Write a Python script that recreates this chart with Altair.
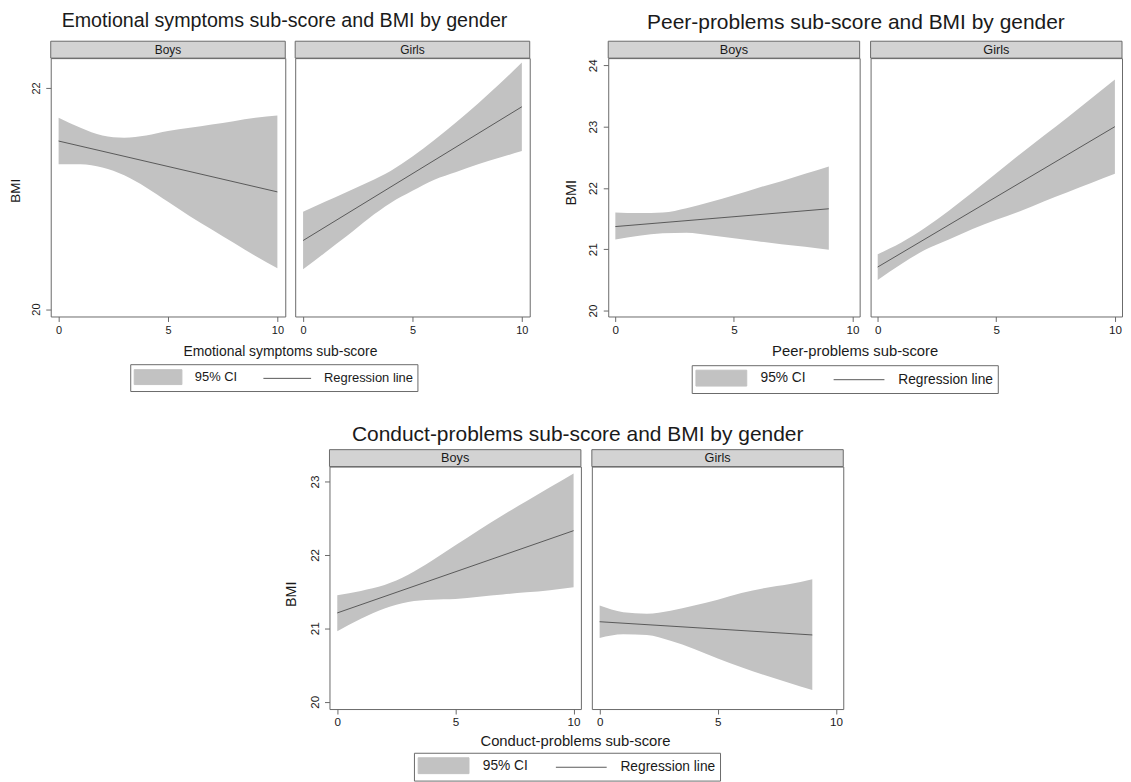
import altair as alt
import pandas as pd

FONT = "Liberation Sans"
TXT = "#1a1a1a"
FRAME = "#6a6a6a"
BAND = "#c2c2c2"
LINE = "#595959"
STRIP = "#d3d3d3"
SERIES = ["95% CI", "Regression line"]

# ---------------- data ----------------
x_0_10 = [0, 1, 2, 3, 4, 5, 6, 7, 8, 9, 10]
x_0_9 = [0, 1, 2, 3, 4, 5, 6, 7, 8, 9]

# Emotional symptoms
emo_boys_lo = [21.31, 21.31, 21.28, 21.21, 21.10, 20.97, 20.84, 20.72, 20.60, 20.48, 20.37]
emo_boys_hi = [21.73, 21.64, 21.57, 21.55, 21.57, 21.61, 21.64, 21.67, 21.70, 21.73, 21.75]
emo_boys_fit_x = [0, 10]
emo_boys_fit_y = [21.52, 21.06]
emo_girls_lo = [20.36, 20.51, 20.66, 20.82, 20.96, 21.07, 21.17, 21.24, 21.31, 21.37, 21.43]
emo_girls_hi = [20.88, 20.97, 21.06, 21.15, 21.25, 21.38, 21.53, 21.69, 21.86, 22.04, 22.23]
emo_girls_fit_x = [0, 10]
emo_girls_fit_y = [20.62, 21.83]

# Peer problems
peer_boys_lo = [21.16, 21.22, 21.26, 21.27, 21.23, 21.18, 21.13, 21.08, 21.04, 20.99]
peer_boys_hi = [21.60, 21.59, 21.60, 21.67, 21.77, 21.88, 22.00, 22.11, 22.23, 22.35]
peer_boys_fit_x = [0, 9]
peer_boys_fit_y = [21.37, 21.66]
peer_girls_lo = [20.50, 20.76, 20.99, 21.16, 21.33, 21.48, 21.62, 21.78, 21.93, 22.08, 22.23]
peer_girls_hi = [20.92, 21.11, 21.35, 21.63, 21.93, 22.24, 22.55, 22.85, 23.15, 23.46, 23.77]
peer_girls_fit_x = [0, 10]
peer_girls_fit_y = [20.71, 23.00]

# Conduct problems
cond_boys_lo = [20.96, 21.13, 21.27, 21.36, 21.39, 21.40, 21.43, 21.46, 21.49, 21.52, 21.56]
cond_boys_hi = [21.45, 21.51, 21.59, 21.73, 21.92, 22.13, 22.34, 22.54, 22.73, 22.92, 23.11]
cond_boys_fit_x = [0, 10]
cond_boys_fit_y = [21.21, 22.33]
cond_girls_lo = [20.87, 20.92, 20.91, 20.83, 20.72, 20.59, 20.47, 20.36, 20.26, 20.16]
cond_girls_hi = [21.31, 21.22, 21.20, 21.24, 21.31, 21.39, 21.48, 21.55, 21.60, 21.67]
cond_girls_fit_x = [0, 9]
cond_girls_fit_y = [21.09, 20.91]

x_ticks = [0, 5, 10]
genders = ["Boys", "Girls"]


def band_df(xs, lo, hi):
    return pd.DataFrame({"x": xs, "lo": lo, "hi": hi, "series": SERIES[0]})


def fit_df(xs, ys):
    return pd.DataFrame({"x": xs, "y": ys, "series": SERIES[1]})


def make_legend(s, lx, ly):
    # symbol size 256 -> unit = 8 px
    hw = round(3.0 * s, 3)
    hh = round(0.9375 * s, 3)
    rect_path = f"M-{hw},-{hh}H{hw}V{hh}H-{hw}Z"
    line_path = f"M-{hw},0H{hw}"
    expr = "datum.value === '" + SERIES[0] + "' ? '" + rect_path + "' : '" + line_path + "'"
    return alt.Legend(
        orient="none", legendX=lx, legendY=ly, direction="horizontal", title=None,
        strokeColor=FRAME, fillColor="white", padding=4 * s, cornerRadius=0,
        labelFont=FONT, labelFontSize=13 * s, labelColor=TXT,
        symbolType={"expr": expr}, symbolSize=256, symbolStrokeWidth=1,
        symbolOpacity=1, symbolOffset=24 * s - 8.5, labelOffset=37 * s - 8.5,
        columnPadding=24 * s,
    )


def panel(band, fit, label, xdom, ydom, yvals, w, h, first, s, legend,
          xtitle, xt_x, xt_y, yt_x, yt_y):
    xscale = alt.Scale(domain=xdom, nice=False, zero=False)
    yscale = alt.Scale(domain=ydom, nice=False, zero=False)
    xaxis = alt.Axis(
        values=x_ticks, grid=False, domain=False, tickSize=5, tickColor=FRAME,
        labelPadding=3, labelFontSize=11 * s, labelFont=FONT, labelColor=TXT,
        labelFlush=False, title=(xtitle if first else None),
        titleX=xt_x, titleY=xt_y, titleBaseline="middle", titleAlign="center",
        titleFont=FONT, titleFontSize=14 * s, titleFontWeight="normal", titleColor=TXT,
    )
    if first:
        yaxis = alt.Axis(
            values=yvals, grid=False, domain=False, tickSize=5, tickColor=FRAME,
            labelAngle=270, labelAlign="center", labelBaseline="bottom", labelPadding=4.5,
            labelFontSize=11 * s, labelFont=FONT, labelColor=TXT, labelFlush=False,
            title="BMI", titleX=yt_x, titleY=yt_y, titleAngle=270, titleAlign="center",
            titleBaseline="middle", titleFont=FONT, titleFontSize=13.5 * s,
            titleFontWeight="normal", titleColor=TXT,
        )
    else:
        yaxis = None
    color = alt.Color("series:N", scale=alt.Scale(domain=SERIES, range=[BAND, LINE]), legend=legend)
    area = alt.Chart(band).mark_area(interpolate="monotone", opacity=1).encode(
        x=alt.X("x:Q", scale=xscale, axis=xaxis),
        y=alt.Y("lo:Q", scale=yscale, axis=yaxis),
        y2="hi:Q",
        color=color,
    )
    line = alt.Chart(fit).mark_line(strokeWidth=1, opacity=1).encode(
        x=alt.X("x:Q", scale=xscale, axis=xaxis),
        y=alt.Y("y:Q", scale=yscale, axis=yaxis),
        color=color,
    )
    lab = pd.DataFrame({"g": [label]})
    strip = alt.Chart(lab).mark_rect(fill=STRIP, stroke=FRAME, strokeWidth=1).encode(
        x=alt.value(0), x2=alt.value(w), y=alt.value(-17), y2=alt.value(0)
    )
    strip_txt = alt.Chart(lab).mark_text(font=FONT, fontSize=12 * s, color=TXT, baseline="middle").encode(
        x=alt.value(w / 2), y=alt.value(-8.5), text="g:N"
    )
    return alt.layer(area, line, strip, strip_txt).properties(width=w, height=h)


def subchart(title, xtitle, bands, fits, xdom, ydom, yvals, w, h, gap, s,
             lx, ly, xt_x, xt_y, yt_x, yt_y, toff, tdx):
    legend = make_legend(s, lx, ly)
    panels = []
    for i, g in enumerate(genders):
        panels.append(panel(bands[i], fits[i], g, xdom, ydom, yvals, w, h, i == 0, s, legend,
                            xtitle, xt_x, xt_y, yt_x, yt_y))
    return alt.hconcat(*panels, spacing=gap, bounds="flush").properties(
        title=alt.TitleParams(title, font=FONT, fontSize=19.8 * s, fontWeight="normal",
                              color=TXT, anchor="middle", offset=toff, dx=tdx)
    )


A = subchart(
    "Emotional symptoms sub-score and BMI by gender", "Emotional symptoms sub-score",
    [band_df(x_0_10, emo_boys_lo, emo_boys_hi), band_df(x_0_10, emo_girls_lo, emo_girls_hi)],
    [fit_df(emo_boys_fit_x, emo_boys_fit_y), fit_df(emo_girls_fit_x, emo_girls_fit_y)],
    [-0.36, 10.36], [19.933, 22.27], [20, 22], 236, 260, 10, 1.0,
    80, 308, 230.6, 35, -35, 133, 9.5, 15,
)
B = subchart(
    "Peer-problems sub-score and BMI by gender", "Peer-problems sub-score",
    [band_df(x_0_9, peer_boys_lo, peer_boys_hi), band_df(x_0_10, peer_girls_lo, peer_girls_hi)],
    [fit_df(peer_boys_fit_x, peer_boys_fit_y), fit_df(peer_girls_fit_x, peer_girls_fit_y)],
    [-0.3, 10.3], [19.903, 24.118], [20, 21, 22, 23, 24], 253, 260, 11, 1.065,
    84, 309, 248, 35, -37, 135, 7, 13,
)
C = subchart(
    "Conduct-problems sub-score and BMI by gender", "Conduct-problems sub-score",
    [band_df(x_0_10, cond_boys_lo, cond_boys_hi), band_df(x_0_9, cond_girls_lo, cond_girls_hi)],
    [fit_df(cond_boys_fit_x, cond_boys_fit_y), fit_df(cond_girls_fit_x, cond_girls_fit_y)],
    [-0.33, 10.31], [19.901, 23.203], [20, 21, 22, 23], 253, 244, 11, 1.065,
    85, 288, 247, 33, -38, 128, 4, 14,
)

row = alt.hconcat(A, B, spacing=32).resolve_scale(color="independent").resolve_legend(color="independent")
chart = alt.vconcat(row, C, spacing=29, center=True).resolve_scale(
    color="independent").resolve_legend(color="independent").properties(
    padding=0, background="white"
).configure_view(stroke=FRAME, strokeWidth=1)

chart.save("out.html", embed_options={"renderer": "svg", "actions": False})
